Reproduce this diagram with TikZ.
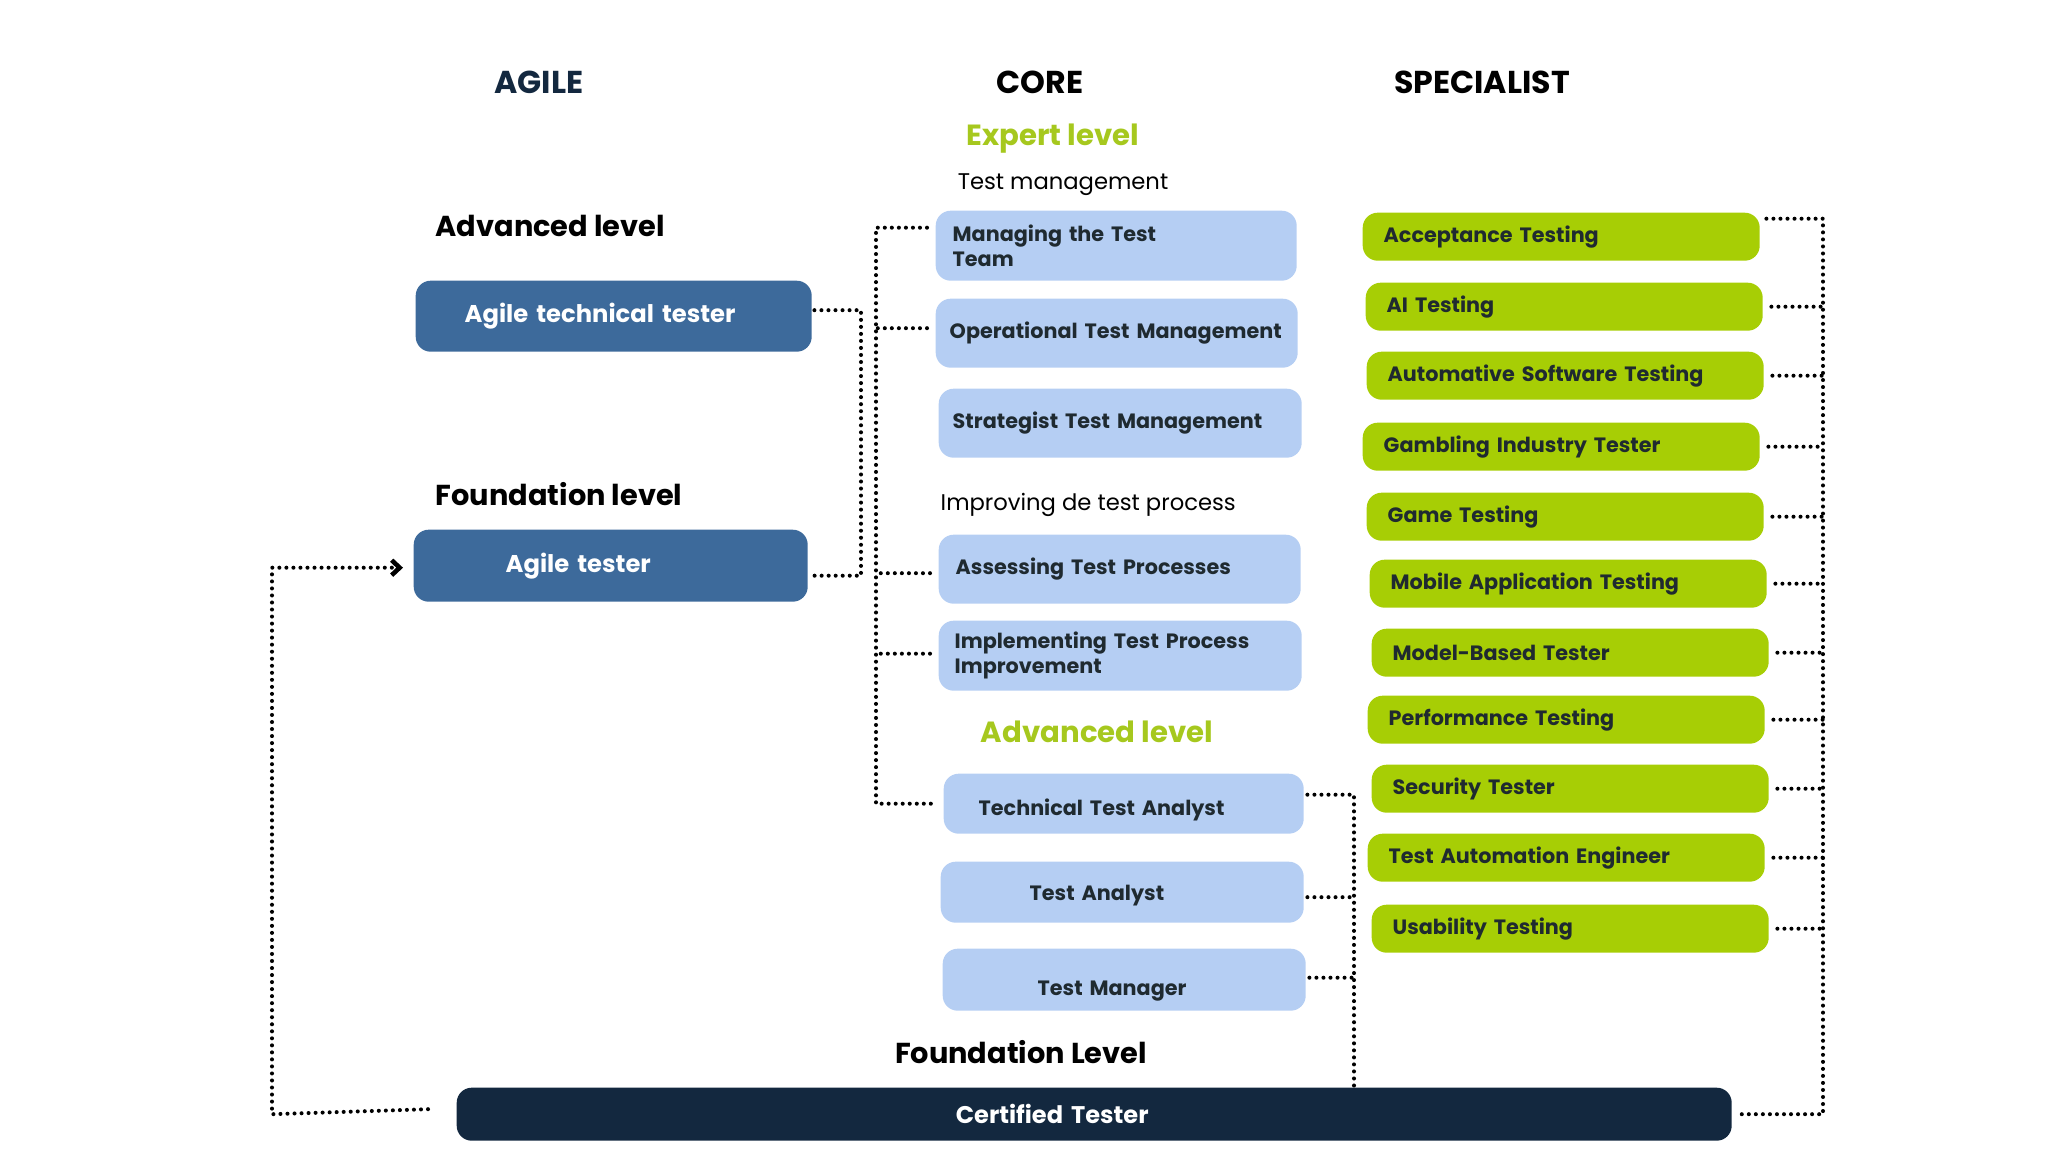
\documentclass[tikz,border=0pt]{standalone}
\usepackage{fontspec}
\setmainfont{Poppins}
\usetikzlibrary{arrows.meta}

\definecolor{agileblue}{HTML}{3D6A9B}
\definecolor{coreblue}{HTML}{B5CEF3}
\definecolor{specgreen}{HTML}{A7CE05}
\definecolor{certnavy}{HTML}{13283F}
\definecolor{levelgreen}{HTML}{A6C81E}
\definecolor{boxink}{HTML}{1F2A30}

\tikzset{
  head/.style={inner sep=0, font=\fontsize{9}{11}\selectfont\bfseries},
  levelhd/.style={inner sep=0, font=\fontsize{8.2}{10}\selectfont\bfseries},
  greenhd/.style={inner sep=0, text=levelgreen, font=\fontsize{8.3}{10}\selectfont\bfseries},
  subhd/.style={inner sep=0, font=\fontsize{6.45}{8}\selectfont},
  bx/.style={anchor=north west, inner ysep=0, align=left, rounded corners=.15cm},
  agilebox/.style={bx, fill=agileblue, text=white, font=\fontsize{6.9}{8}\selectfont\bfseries},
  corebox/.style={bx, fill=coreblue, text=boxink, font=\fontsize{5.9}{7.1}\selectfont\bfseries},
  specbox/.style={bx, fill=specgreen, text=boxink, text width=3.55cm, inner xsep=.21cm,
    minimum height=.48cm, font=\fontsize{5.9}{7.1}\selectfont\bfseries},
  dots/.style={line width=1.15pt, line cap=round, dash pattern=on 0pt off 2pt}
}

\begin{document}
\begin{tikzpicture}[>=latex]
\useasboundingbox (0,0) rectangle (20.48,-11.52);

\node[head, text=certnavy] (agilehd) at (5.39,-.82) {AGILE};
\node[head] (corehd) at (10.40,-.82) {CORE};
\node[head] (spechd) at (14.82,-.82) {SPECIALIST};
\node[greenhd] (expert) at (10.53,-1.39) {Expert level};
\node[subhd] (tmgmt) at (10.63,-1.85) {Test management};
\node[levelhd, anchor=west] (advagile) at (4.35,-2.26) {Advanced level};
\node[levelhd, anchor=west] (fndagile) at (4.35,-4.94) {Foundation level};
\node[subhd, anchor=west] (improve) at (9.40,-5.05) {Improving de test process};
\node[greenhd] (advcore) at (10.97,-7.32) {Advanced level};
\node[levelhd] (fndcore) at (10.21,-10.52) {Foundation Level};

\node[agilebox, text width=2.98cm, inner xsep=.49cm, minimum height=.71cm] (att) at (4.15,-2.80) {\mbox{Agile technical tester}};
\node[agilebox, text width=2.10cm, inner xsep=.92cm, minimum height=.72cm] (at) at (4.13,-5.29) {\mbox{Agile tester}};

\node[corebox, text width=3.27cm, inner xsep=.17cm, minimum height=.70cm] (mtt) at (9.35,-2.10) {Managing the Test\\Team};
\node[corebox, text width=3.34cm, inner xsep=.14cm, minimum height=.69cm] (otm) at (9.35,-2.98) {\mbox{Operational Test Management}};
\node[corebox, text width=3.35cm, inner xsep=.14cm, minimum height=.69cm] (stm) at (9.38,-3.88) {\mbox{Strategist Test Management}};
\node[corebox, text width=3.28cm, inner xsep=.17cm, minimum height=.69cm] (atp) at (9.38,-5.34) {\mbox{Assessing Test Processes}};
\node[corebox, text width=3.31cm, inner xsep=.16cm, minimum height=.70cm] (itp) at (9.38,-6.20) {\mbox{Implementing Test Process}\\Improvement};
\node[corebox, text width=2.90cm, inner xsep=.35cm, minimum height=.60cm] (tta) at (9.43,-7.73) {\raisebox{-.6mm}[\height][\depth]{\mbox{Technical Test Analyst}}};
\node[corebox, text width=1.85cm, inner xsep=.89cm, minimum height=.61cm] (ta) at (9.40,-8.61) {\raisebox{-.35mm}[\height][\depth]{\mbox{Test Analyst}}};
\node[corebox, text width=1.73cm, inner xsep=.95cm, minimum height=.62cm] (tm) at (9.42,-9.48) {\raisebox{-1.1mm}[\height][\depth]{\mbox{Test Manager}}};

\node[bx, fill=certnavy, text=white, text width=12.75cm, inner xsep=0, minimum height=.53cm, align=center,
  font=\fontsize{6.85}{8}\selectfont\bfseries] (ct) at (4.56,-10.87) {Certified Tester\hspace*{.84cm}};

\foreach \nm/\txt/\x/\y in {acc/Acceptance Testing/13.62/2.12, ait/AI Testing/13.65/2.82,
  ast/Automative Software Testing/13.66/3.51, git/Gambling Industry Tester/13.62/4.22,
  gmt/Game Testing/13.66/4.92, mat/Mobile Application Testing/13.69/5.59,
  mbt/Model-Based Tester/13.71/6.28, pft/Performance Testing/13.67/6.95,
  sct/Security Tester/13.71/7.64, tae/Test Automation Engineer/13.67/8.33,
  ust/Usability Testing/13.71/9.04}
{
   \node[specbox] (\nm) at (\x,-\y) {\mbox{\txt}};
}

\coordinate (rail) at (18.23,0);
\coordinate (mrail) at (13.54,0);
\coordinate (lrail) at (8.76,0);
\coordinate (arail) at (8.61,0);
\coordinate (loopc) at (2.72,0);

\draw[dots] ([xshift=.06cm,yshift=.18cm]acc.east) -| (rail |- ct.east) -- ([xshift=.06cm]ct.east);
\foreach \nm in {ait,ast,git,gmt,mat,mbt,pft,sct,tae,ust}
{
   \draw[dots] ([xshift=.08cm]\nm.east) -- (\nm.east -| rail);
}

\draw[dots] ([xshift=.03cm,yshift=.09cm]tta.east) -| (mrail |- ct.north);
\foreach \nm/\dy in {ta/-.05,tm/.02}
{
   \coordinate (stub) at ([xshift=.03cm,yshift=\dy cm]\nm.east);
   \draw[dots] (stub) -- (stub -| mrail);
}

\draw[dots] ([xshift=-.08cm,yshift=.18cm]mtt.west) -| (lrail |- tta.west) -- ([xshift=-.10cm]tta.west);
\foreach \nm/\dy in {otm/.05,atp/-.04,itp/.02}
{
   \coordinate (stub) at ([xshift=-.08cm,yshift=\dy cm]\nm.west);
   \draw[dots] (stub) -- (stub -| lrail);
}

\coordinate (atjoin) at ([xshift=.05cm,yshift=-.1cm]at.east);
\draw[dots] ([xshift=.02cm,yshift=.06cm]att.east) -| (arail |- atjoin) -- (atjoin);

\draw[dots, -{Straight Barb[length=.8mm, width=1.5mm, line width=1.3pt]}] ([xshift=-.28cm,yshift=.05cm]ct.west) -- (loopc |- ct.west) |- ([xshift=-.1cm,yshift=-.02cm]at.west);
\end{tikzpicture}
\end{document}
